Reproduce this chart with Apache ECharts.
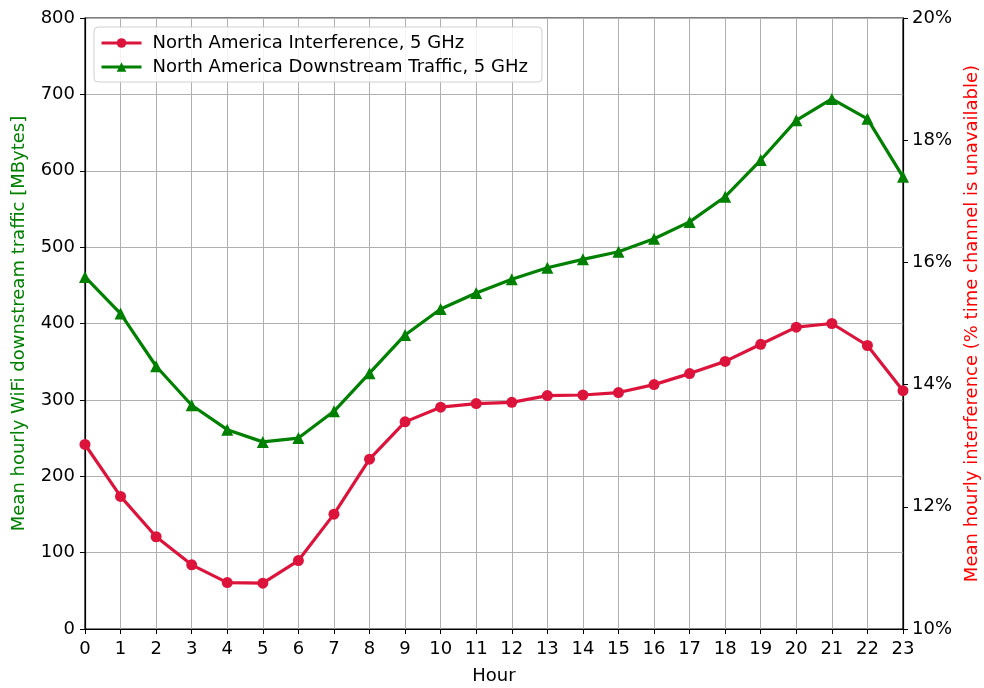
<!DOCTYPE html>
<html>
<head>
<meta charset="utf-8">
<script src="https://cdn.jsdelivr.net/npm/echarts@6/dist/echarts.min.js"></script>
<style>
  html, body { margin: 0; padding: 0; background: #fff; }
  #chart { width: 984px; height: 688px; }
</style>
</head>
<body>
<div id="chart"></div>
<script>
// 小时
var hours = ['0','1','2','3','4','5','6','7','8','9','10','11','12','13','14','15','16','17','18','19','20','21','22','23'];
// 干扰 (%)
var interference = [13.02, 12.17, 11.51, 11.05, 10.76, 10.75, 11.12, 11.88, 12.78, 13.39, 13.63, 13.69,
                    13.71, 13.82, 13.83, 13.87, 14.00, 14.18, 14.38, 14.66, 14.94, 15.00, 14.64, 13.90];
// 下行流量 (MBytes)
var traffic = [461, 413, 344, 293, 261, 245, 250, 285, 335, 385, 419, 440,
               458, 473, 484, 494, 511, 533, 566, 614, 666, 694, 668, 592];

var FONT = 'DejaVu Sans';
var FS = 18;
var chart = echarts.init(document.getElementById('chart'));
var option = {
    animation: false,
    backgroundColor: '#fff',
    textStyle: { fontFamily: FONT },
    grid: {
        left: 85, right: 81, top: 18, bottom: 59,
        outerBoundsMode: 'none',
        show: true, borderColor: '#000', borderWidth: 1.2, backgroundColor: 'transparent'
    },
    legend: {
        orient: 'vertical',
        left: 94, top: 27,
        padding: [7, 14, 6, 6],
        itemGap: 6,
        itemWidth: 40, itemHeight: 12,
        backgroundColor: 'rgba(255,255,255,0.85)',
        borderColor: '#d0d0d0', borderWidth: 1, borderRadius: 4,
        lineStyle: { width: 3 },
        textStyle: { fontFamily: FONT, fontSize: FS, color: '#000', padding: [0, 0, 0, 6] },
        data: ['North America Interference, 5 GHz', 'North America Downstream Traffic, 5 GHz']
    },
    xAxis: {
        type: 'category',
        data: hours,
        boundaryGap: false,
        name: 'Hour',
        nameLocation: 'middle',
        nameGap: 38,
        nameTextStyle: { fontFamily: FONT, fontSize: FS, color: '#000' },
        axisLine: { lineStyle: { color: '#000', width: 1.2 } },
        axisTick: { show: true, length: 5, lineStyle: { color: '#000' } },
        axisLabel: { fontFamily: FONT, fontSize: FS, color: '#000', margin: 11, interval: 0 },
        splitLine: { show: true, lineStyle: { color: '#b0b0b0', width: 1 } }
    },
    yAxis: [
        {
            type: 'value',
            min: 0, max: 800, interval: 100,
            name: 'Mean hourly WiFi downstream traffic [MBytes]',
            nameLocation: 'middle',
            nameGap: 57,
            nameTextStyle: { fontFamily: FONT, fontSize: FS, color: '#008000' },
            axisLine: { show: true, lineStyle: { color: '#000', width: 1.2 } },
            axisTick: { show: true, length: 5, lineStyle: { color: '#000' } },
            axisLabel: { fontFamily: FONT, fontSize: FS, color: '#000', margin: 10 },
            splitLine: { show: true, lineStyle: { color: '#b0b0b0', width: 1 } }
        },
        {
            type: 'value',
            position: 'right',
            min: 10, max: 20, interval: 2,
            name: 'Mean hourly interference (% time channel is unavailable)',
            nameLocation: 'middle',
            nameGap: 58,
            nameRotate: 90,
            nameTextStyle: { fontFamily: FONT, fontSize: FS, color: '#ff0000' },
            axisLine: { show: true, lineStyle: { color: '#000', width: 1.2 } },
            axisTick: { show: true, length: 5, lineStyle: { color: '#000' } },
            axisLabel: { fontFamily: FONT, fontSize: FS, color: '#000', margin: 9, formatter: '{value}%' },
            splitLine: { show: false }
        }
    ],
    series: [
        {
            name: 'North America Interference, 5 GHz',
            type: 'line',
            yAxisIndex: 1,
            data: interference,
            symbol: 'circle',
            symbolSize: 11,
            color: '#dc143c',
            lineStyle: { width: 3.2, color: '#dc143c' },
            itemStyle: { color: '#dc143c' },
            z: 3
        },
        {
            name: 'North America Downstream Traffic, 5 GHz',
            type: 'line',
            yAxisIndex: 0,
            data: traffic,
            symbol: 'triangle',
            symbolSize: 12,
            color: '#008000',
            lineStyle: { width: 3.2, color: '#008000' },
            itemStyle: { color: '#008000' },
            z: 3
        }
    ]
};
chart.setOption(option);
</script>
</body>
</html>
